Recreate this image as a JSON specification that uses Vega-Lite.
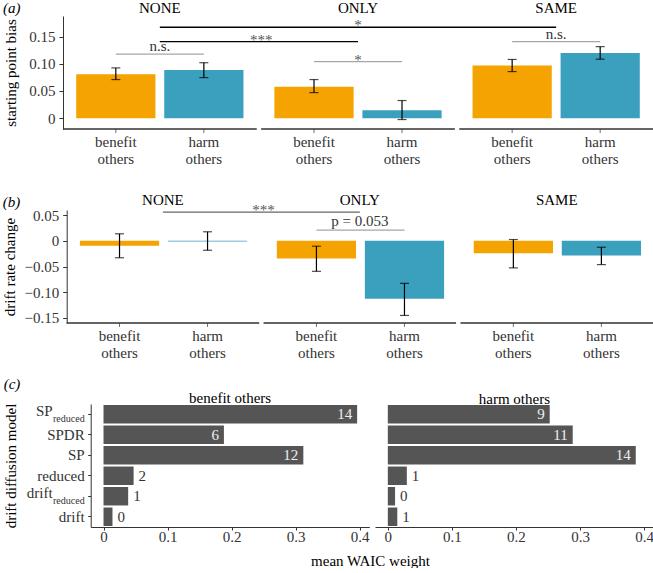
{
  "$schema": "https://vega.github.io/schema/vega-lite/v6.json",
  "background": "white",
  "padding": {"left": 2, "top": 0, "right": 0, "bottom": 0},
  "columns": 1,
  "align": "none",
  "spacing": 16,
  "config": {
    "view": {"stroke": null},
    "font": "Liberation Serif",
    "axis": {"labelFont": "Liberation Serif", "titleFont": "Liberation Serif", "labelFontSize": 15, "titleFontSize": 15, "titleFontWeight": "normal", "labelColor": "#333", "titleColor": "#000", "domainColor": "#333", "tickColor": "#333", "grid": false, "labelOverlap": false},
    "title": {"font": "Liberation Serif", "fontSize": 15, "fontWeight": "normal", "color": "#000"},
    "text": {"font": "Liberation Serif", "fontSize": 15}
  },
  "datasets": {
    "spb": [
      {"condition": "NONE", "target": "benefit others", "value": 0.081, "lo": 0.071, "hi": 0.0925},
      {"condition": "NONE", "target": "harm others", "value": 0.0888, "lo": 0.0746, "hi": 0.102},
      {"condition": "ONLY", "target": "benefit others", "value": 0.058, "lo": 0.047, "hi": 0.071},
      {"condition": "ONLY", "target": "harm others", "value": 0.0147, "lo": -0.0026, "hi": 0.0324},
      {"condition": "SAME", "target": "benefit others", "value": 0.0967, "lo": 0.0857, "hi": 0.108},
      {"condition": "SAME", "target": "harm others", "value": 0.12, "lo": 0.1085, "hi": 0.1316}
    ],
    "drc": [
      {"condition": "NONE", "target": "benefit others", "value": -0.0098, "lo": -0.033, "hi": 0.0137},
      {"condition": "NONE", "target": "harm others", "value": -0.0015, "lo": -0.0184, "hi": 0.0176},
      {"condition": "ONLY", "target": "benefit others", "value": -0.0346, "lo": -0.0594, "hi": -0.0105},
      {"condition": "ONLY", "target": "harm others", "value": -0.113, "lo": -0.1453, "hi": -0.0828},
      {"condition": "SAME", "target": "benefit others", "value": -0.0242, "lo": -0.0527, "hi": 0.0025},
      {"condition": "SAME", "target": "harm others", "value": -0.0287, "lo": -0.0463, "hi": -0.0125}
    ],
    "sigA_pairs": [
      {"id": "a1", "condition": "NONE", "target": "benefit others", "y": 0.118},
      {"id": "a1", "condition": "NONE", "target": "harm others", "y": 0.118},
      {"id": "a2", "condition": "ONLY", "target": "benefit others", "y": 0.104},
      {"id": "a2", "condition": "ONLY", "target": "harm others", "y": 0.104},
      {"id": "a3", "condition": "SAME", "target": "benefit others", "y": 0.1408},
      {"id": "a3", "condition": "SAME", "target": "harm others", "y": 0.1408}
    ],
    "sigA_cross": [
      {"id": "c1", "condition": "NONE", "y": 0.1673},
      {"id": "c1", "condition": "SAME", "y": 0.1673},
      {"id": "c2", "condition": "NONE", "y": 0.1408},
      {"id": "c2", "condition": "ONLY", "y": 0.1408}
    ],
    "sigA_labels": [
      {"condition": "NONE", "label": "n.s.", "y": 0.118},
      {"condition": "ONLY", "label": "*", "y": 0.104},
      {"condition": "SAME", "label": "n.s.", "y": 0.1408},
      {"condition": "ONLY", "label": "*", "y": 0.1673},
      {"condition": "ONLY", "label": "***", "y": 0.1408}
    ],
    "sigB_pairs": [
      {"id": "b1", "condition": "ONLY", "target": "benefit others", "y": 0.0207},
      {"id": "b1", "condition": "ONLY", "target": "harm others", "y": 0.0207}
    ],
    "sigB_cross": [
      {"id": "b2", "condition": "NONE", "y": 0.0559},
      {"id": "b2", "condition": "ONLY", "y": 0.0559}
    ],
    "sigB_labels": [
      {"condition": "ONLY", "label": "p = 0.053", "y": 0.0207},
      {"condition": "ONLY", "label": "***", "y": 0.0559}
    ],
    "waic": [
      {"target": "benefit others", "model": "SPreduced", "main": "SP", "sub": "reduced", "weight": 0.396, "n": 14},
      {"target": "benefit others", "model": "SPDR", "main": "SPDR", "sub": null, "weight": 0.188, "n": 6},
      {"target": "benefit others", "model": "SP", "main": "SP", "sub": null, "weight": 0.312, "n": 12},
      {"target": "benefit others", "model": "reduced", "main": "reduced", "sub": null, "weight": 0.047, "n": 2},
      {"target": "benefit others", "model": "driftreduced", "main": "drift", "sub": "reduced", "weight": 0.0385, "n": 1},
      {"target": "benefit others", "model": "drift", "main": "drift", "sub": null, "weight": 0.014, "n": 0},
      {"target": "harm others", "model": "SPreduced", "main": "SP", "sub": "reduced", "weight": 0.2527, "n": 9},
      {"target": "harm others", "model": "SPDR", "main": "SPDR", "sub": null, "weight": 0.2886, "n": 11},
      {"target": "harm others", "model": "SP", "main": "SP", "sub": null, "weight": 0.387, "n": 14},
      {"target": "harm others", "model": "reduced", "main": "reduced", "sub": null, "weight": 0.0297, "n": 1},
      {"target": "harm others", "model": "driftreduced", "main": "drift", "sub": "reduced", "weight": 0.0113, "n": 0},
      {"target": "harm others", "model": "drift", "main": "drift", "sub": null, "weight": 0.0148, "n": 1}
    ]
  },
  "concat": [
    {
      "columns": 1,
      "align": "none",
      "spacing": 25,
      "concat": [
        {
          "width": 590, "height": 113,
          "title": {"text": "(a)", "anchor": "start", "frame": "bounds", "fontStyle": "italic", "offset": -16},
          "layer": [
            {"data": {"name": "spb"}, "mark": {"type": "bar"},
             "encoding": {
               "x": {"field": "condition", "type": "nominal", "sort": ["NONE", "ONLY", "SAME"], "scale": {"paddingInner": 0.0227, "paddingOuter": 0}, "axis": {"orient": "top", "title": null, "domain": false, "ticks": false, "labelAngle": 0, "labelPadding": 1, "labelColor": "#000"}},
               "xOffset": {"field": "target", "type": "nominal", "sort": ["benefit others", "harm others"], "scale": {"paddingInner": 0.1, "paddingOuter": 0.15}},
               "y": {"field": "value", "type": "quantitative", "scale": {"domain": [-0.02, 0.188], "nice": false, "zero": false}, "axis": {"title": "starting point bias", "values": [0, 0.05, 0.1, 0.15], "labelExpr": "datum.value === 0 ? '0' : format(datum.value, '.2f')", "labelOverlap": false, "tickSize": 4, "labelPadding": 4, "minExtent": 41, "maxExtent": 41, "titlePadding": 4}},
               "y2": {"datum": 0},
               "color": {"field": "target", "type": "nominal", "scale": {"domain": ["benefit others", "harm others"], "range": ["#F4A300", "#3BA0BE"]}, "legend": null}
             }},
            {"data": {"name": "spb"}, "mark": {"type": "rule", "color": "#000", "strokeWidth": 1.2},
             "encoding": {
               "x": {"field": "condition", "type": "nominal", "sort": ["NONE", "ONLY", "SAME"]},
               "xOffset": {"field": "target", "type": "nominal", "sort": ["benefit others", "harm others"]},
               "y": {"field": "lo", "type": "quantitative", "axis": {"title": "starting point bias", "values": [0, 0.05, 0.1, 0.15], "labelExpr": "datum.value === 0 ? '0' : format(datum.value, '.2f')", "labelOverlap": false, "tickSize": 4, "labelPadding": 4, "minExtent": 41, "maxExtent": 41, "titlePadding": 4}},
               "y2": {"field": "hi"}
             }},
            {"data": {"name": "spb"}, "mark": {"type": "tick", "orient": "horizontal", "size": 9, "thickness": 1.2, "color": "#000"},
             "encoding": {
               "x": {"field": "condition", "type": "nominal", "sort": ["NONE", "ONLY", "SAME"]},
               "xOffset": {"field": "target", "type": "nominal", "sort": ["benefit others", "harm others"]},
               "y": {"field": "lo", "type": "quantitative", "axis": {"title": "starting point bias", "values": [0, 0.05, 0.1, 0.15], "labelExpr": "datum.value === 0 ? '0' : format(datum.value, '.2f')", "labelOverlap": false, "tickSize": 4, "labelPadding": 4, "minExtent": 41, "maxExtent": 41, "titlePadding": 4}}
             }},
            {"data": {"name": "spb"}, "mark": {"type": "tick", "orient": "horizontal", "size": 9, "thickness": 1.2, "color": "#000"},
             "encoding": {
               "x": {"field": "condition", "type": "nominal", "sort": ["NONE", "ONLY", "SAME"]},
               "xOffset": {"field": "target", "type": "nominal", "sort": ["benefit others", "harm others"]},
               "y": {"field": "hi", "type": "quantitative", "axis": {"title": "starting point bias", "values": [0, 0.05, 0.1, 0.15], "labelExpr": "datum.value === 0 ? '0' : format(datum.value, '.2f')", "labelOverlap": false, "tickSize": 4, "labelPadding": 4, "minExtent": 41, "maxExtent": 41, "titlePadding": 4}}
             }},
            {"data": {"name": "spb"}, "mark": {"type": "rule", "color": "#333", "strokeWidth": 1},
             "encoding": {
               "x": {"field": "condition", "type": "nominal", "sort": ["NONE", "ONLY", "SAME"], "bandPosition": 0},
               "x2": {"field": "condition", "bandPosition": 1},
               "y": {"datum": -0.02, "type": "quantitative", "axis": {"title": "starting point bias", "values": [0, 0.05, 0.1, 0.15], "labelExpr": "datum.value === 0 ? '0' : format(datum.value, '.2f')", "labelOverlap": false, "tickSize": 4, "labelPadding": 4, "minExtent": 41, "maxExtent": 41, "titlePadding": 4}}
             }},
            {"data": {"name": "spb"}, "mark": {"type": "tick", "orient": "vertical", "size": 4, "thickness": 1, "yOffset": 2, "color": "#333"},
             "encoding": {
               "x": {"field": "condition", "type": "nominal", "sort": ["NONE", "ONLY", "SAME"]},
               "xOffset": {"field": "target", "type": "nominal", "sort": ["benefit others", "harm others"]},
               "y": {"datum": -0.02, "type": "quantitative", "axis": {"title": "starting point bias", "values": [0, 0.05, 0.1, 0.15], "labelExpr": "datum.value === 0 ? '0' : format(datum.value, '.2f')", "labelOverlap": false, "tickSize": 4, "labelPadding": 4, "minExtent": 41, "maxExtent": 41, "titlePadding": 4}}
             }},
            {"data": {"name": "spb"}, "mark": {"type": "text", "baseline": "top", "dy": 6, "lineBreak": " ", "lineHeight": 17, "color": "#333"},
             "encoding": {
               "x": {"field": "condition", "type": "nominal", "sort": ["NONE", "ONLY", "SAME"]},
               "xOffset": {"field": "target", "type": "nominal", "sort": ["benefit others", "harm others"]},
               "y": {"datum": -0.02, "type": "quantitative", "axis": {"title": "starting point bias", "values": [0, 0.05, 0.1, 0.15], "labelExpr": "datum.value === 0 ? '0' : format(datum.value, '.2f')", "labelOverlap": false, "tickSize": 4, "labelPadding": 4, "minExtent": 41, "maxExtent": 41, "titlePadding": 4}},
               "text": {"field": "target"}
             }},
            {"data": {"name": "sigA_pairs"}, "mark": {"type": "line", "color": "#a6a6a6", "strokeWidth": 1.2},
             "encoding": {
               "x": {"field": "condition", "type": "nominal", "sort": ["NONE", "ONLY", "SAME"]},
               "xOffset": {"field": "target", "type": "nominal", "sort": ["benefit others", "harm others"]},
               "y": {"field": "y", "type": "quantitative", "axis": {"title": "starting point bias", "values": [0, 0.05, 0.1, 0.15], "labelExpr": "datum.value === 0 ? '0' : format(datum.value, '.2f')", "labelOverlap": false, "tickSize": 4, "labelPadding": 4, "minExtent": 41, "maxExtent": 41, "titlePadding": 4}},
               "detail": {"field": "id"}
             }},
            {"data": {"name": "sigA_cross"}, "mark": {"type": "line", "color": "#000", "strokeWidth": 1.3},
             "encoding": {
               "x": {"field": "condition", "type": "nominal", "sort": ["NONE", "ONLY", "SAME"]},
               "y": {"field": "y", "type": "quantitative", "axis": {"title": "starting point bias", "values": [0, 0.05, 0.1, 0.15], "labelExpr": "datum.value === 0 ? '0' : format(datum.value, '.2f')", "labelOverlap": false, "tickSize": 4, "labelPadding": 4, "minExtent": 41, "maxExtent": 41, "titlePadding": 4}},
               "detail": {"field": "id"}
             }},
            {"data": {"name": "sigA_labels"}, "transform": [{"filter": "datum.label === 'n.s.'"}], "mark": {"type": "text", "baseline": "alphabetic", "dy": -3, "color": "#333"},
             "encoding": {
               "x": {"field": "condition", "type": "nominal", "sort": ["NONE", "ONLY", "SAME"]},
               "y": {"field": "y", "type": "quantitative", "axis": {"title": "starting point bias", "values": [0, 0.05, 0.1, 0.15], "labelExpr": "datum.value === 0 ? '0' : format(datum.value, '.2f')", "labelOverlap": false, "tickSize": 4, "labelPadding": 4, "minExtent": 41, "maxExtent": 41, "titlePadding": 4}},
               "text": {"field": "label"}
             }},
            {"data": {"name": "sigA_labels"}, "transform": [{"filter": "datum.label === '*'"}], "mark": {"type": "text", "baseline": "alphabetic", "dy": 3, "color": "#555"},
             "encoding": {
               "x": {"field": "condition", "type": "nominal", "sort": ["NONE", "ONLY", "SAME"]},
               "y": {"field": "y", "type": "quantitative", "axis": {"title": "starting point bias", "values": [0, 0.05, 0.1, 0.15], "labelExpr": "datum.value === 0 ? '0' : format(datum.value, '.2f')", "labelOverlap": false, "tickSize": 4, "labelPadding": 4, "minExtent": 41, "maxExtent": 41, "titlePadding": 4}},
               "text": {"field": "label"}
             }},
            {"data": {"name": "sigA_labels"}, "transform": [{"filter": "datum.label === '***'"}], "mark": {"type": "text", "baseline": "alphabetic", "dy": 3, "color": "#555"},
             "encoding": {
               "x": {"field": "condition", "type": "nominal", "sort": ["NONE", "ONLY", "SAME"], "bandPosition": 0},
               "y": {"field": "y", "type": "quantitative", "axis": {"title": "starting point bias", "values": [0, 0.05, 0.1, 0.15], "labelExpr": "datum.value === 0 ? '0' : format(datum.value, '.2f')", "labelOverlap": false, "tickSize": 4, "labelPadding": 4, "minExtent": 41, "maxExtent": 41, "titlePadding": 4}},
               "text": {"field": "label"}
             }}
          ]
        },
        {
          "width": 590, "height": 113,
          "title": {"text": "(b)", "anchor": "start", "frame": "bounds", "fontStyle": "italic", "offset": -18},
          "layer": [
            {"data": {"name": "drc"}, "mark": {"type": "bar"},
             "encoding": {
               "x": {"field": "condition", "type": "nominal", "sort": ["NONE", "ONLY", "SAME"], "scale": {"range": [3.7, 590], "paddingInner": 0.0227, "paddingOuter": 0}, "axis": {"orient": "top", "title": null, "domain": false, "ticks": false, "labelAngle": 0, "labelPadding": 3, "labelColor": "#000"}},
               "xOffset": {"field": "target", "type": "nominal", "sort": ["benefit others", "harm others"], "scale": {"paddingInner": 0.1, "paddingOuter": 0.15}},
               "y": {"field": "value", "type": "quantitative", "scale": {"domain": [-0.16, 0.06], "nice": false, "zero": false}, "axis": {"title": "drift rate change", "values": [-0.15, -0.1, -0.05, 0, 0.05], "labelExpr": "datum.value === 0 ? '0' : format(datum.value, '.2f')", "labelOverlap": false, "offset": -3.7, "tickSize": 4, "labelPadding": 4, "minExtent": 45, "maxExtent": 45, "titlePadding": 4}},
               "y2": {"datum": 0},
               "color": {"field": "target", "type": "nominal", "scale": {"domain": ["benefit others", "harm others"], "range": ["#F4A300", "#3BA0BE"]}, "legend": null}
             }},
            {"data": {"name": "drc"}, "mark": {"type": "rule", "color": "#000", "strokeWidth": 1.2},
             "encoding": {
               "x": {"field": "condition", "type": "nominal", "sort": ["NONE", "ONLY", "SAME"]},
               "xOffset": {"field": "target", "type": "nominal", "sort": ["benefit others", "harm others"]},
               "y": {"field": "lo", "type": "quantitative", "axis": {"title": "drift rate change", "values": [-0.15, -0.1, -0.05, 0, 0.05], "labelExpr": "datum.value === 0 ? '0' : format(datum.value, '.2f')", "labelOverlap": false, "offset": -3.7, "tickSize": 4, "labelPadding": 4, "minExtent": 45, "maxExtent": 45, "titlePadding": 4}},
               "y2": {"field": "hi"}
             }},
            {"data": {"name": "drc"}, "mark": {"type": "tick", "orient": "horizontal", "size": 9, "thickness": 1.2, "color": "#000"},
             "encoding": {
               "x": {"field": "condition", "type": "nominal", "sort": ["NONE", "ONLY", "SAME"]},
               "xOffset": {"field": "target", "type": "nominal", "sort": ["benefit others", "harm others"]},
               "y": {"field": "lo", "type": "quantitative", "axis": {"title": "drift rate change", "values": [-0.15, -0.1, -0.05, 0, 0.05], "labelExpr": "datum.value === 0 ? '0' : format(datum.value, '.2f')", "labelOverlap": false, "offset": -3.7, "tickSize": 4, "labelPadding": 4, "minExtent": 45, "maxExtent": 45, "titlePadding": 4}}
             }},
            {"data": {"name": "drc"}, "mark": {"type": "tick", "orient": "horizontal", "size": 9, "thickness": 1.2, "color": "#000"},
             "encoding": {
               "x": {"field": "condition", "type": "nominal", "sort": ["NONE", "ONLY", "SAME"]},
               "xOffset": {"field": "target", "type": "nominal", "sort": ["benefit others", "harm others"]},
               "y": {"field": "hi", "type": "quantitative", "axis": {"title": "drift rate change", "values": [-0.15, -0.1, -0.05, 0, 0.05], "labelExpr": "datum.value === 0 ? '0' : format(datum.value, '.2f')", "labelOverlap": false, "offset": -3.7, "tickSize": 4, "labelPadding": 4, "minExtent": 45, "maxExtent": 45, "titlePadding": 4}}
             }},
            {"data": {"name": "drc"}, "mark": {"type": "rule", "color": "#333", "strokeWidth": 1},
             "encoding": {
               "x": {"field": "condition", "type": "nominal", "sort": ["NONE", "ONLY", "SAME"], "bandPosition": 0},
               "x2": {"field": "condition", "bandPosition": 1},
               "y": {"datum": -0.16, "type": "quantitative", "axis": {"title": "drift rate change", "values": [-0.15, -0.1, -0.05, 0, 0.05], "labelExpr": "datum.value === 0 ? '0' : format(datum.value, '.2f')", "labelOverlap": false, "offset": -3.7, "tickSize": 4, "labelPadding": 4, "minExtent": 45, "maxExtent": 45, "titlePadding": 4}}
             }},
            {"data": {"name": "drc"}, "mark": {"type": "tick", "orient": "vertical", "size": 4, "thickness": 1, "yOffset": 2, "color": "#333"},
             "encoding": {
               "x": {"field": "condition", "type": "nominal", "sort": ["NONE", "ONLY", "SAME"]},
               "xOffset": {"field": "target", "type": "nominal", "sort": ["benefit others", "harm others"]},
               "y": {"datum": -0.16, "type": "quantitative", "axis": {"title": "drift rate change", "values": [-0.15, -0.1, -0.05, 0, 0.05], "labelExpr": "datum.value === 0 ? '0' : format(datum.value, '.2f')", "labelOverlap": false, "offset": -3.7, "tickSize": 4, "labelPadding": 4, "minExtent": 45, "maxExtent": 45, "titlePadding": 4}}
             }},
            {"data": {"name": "drc"}, "mark": {"type": "text", "baseline": "top", "dy": 6, "lineBreak": " ", "lineHeight": 17, "color": "#333"},
             "encoding": {
               "x": {"field": "condition", "type": "nominal", "sort": ["NONE", "ONLY", "SAME"]},
               "xOffset": {"field": "target", "type": "nominal", "sort": ["benefit others", "harm others"]},
               "y": {"datum": -0.16, "type": "quantitative", "axis": {"title": "drift rate change", "values": [-0.15, -0.1, -0.05, 0, 0.05], "labelExpr": "datum.value === 0 ? '0' : format(datum.value, '.2f')", "labelOverlap": false, "offset": -3.7, "tickSize": 4, "labelPadding": 4, "minExtent": 45, "maxExtent": 45, "titlePadding": 4}},
               "text": {"field": "target"}
             }},
            {"data": {"name": "sigB_pairs"}, "mark": {"type": "line", "color": "#a6a6a6", "strokeWidth": 1.2},
             "encoding": {
               "x": {"field": "condition", "type": "nominal", "sort": ["NONE", "ONLY", "SAME"]},
               "xOffset": {"field": "target", "type": "nominal", "sort": ["benefit others", "harm others"]},
               "y": {"field": "y", "type": "quantitative", "axis": {"title": "drift rate change", "values": [-0.15, -0.1, -0.05, 0, 0.05], "labelExpr": "datum.value === 0 ? '0' : format(datum.value, '.2f')", "labelOverlap": false, "offset": -3.7, "tickSize": 4, "labelPadding": 4, "minExtent": 45, "maxExtent": 45, "titlePadding": 4}},
               "detail": {"field": "id"}
             }},
            {"data": {"name": "sigB_cross"}, "mark": {"type": "line", "color": "#666", "strokeWidth": 1.3},
             "encoding": {
               "x": {"field": "condition", "type": "nominal", "sort": ["NONE", "ONLY", "SAME"]},
               "y": {"field": "y", "type": "quantitative", "axis": {"title": "drift rate change", "values": [-0.15, -0.1, -0.05, 0, 0.05], "labelExpr": "datum.value === 0 ? '0' : format(datum.value, '.2f')", "labelOverlap": false, "offset": -3.7, "tickSize": 4, "labelPadding": 4, "minExtent": 45, "maxExtent": 45, "titlePadding": 4}},
               "detail": {"field": "id"}
             }},
            {"data": {"name": "sigB_labels"}, "transform": [{"filter": "datum.label !== '***'"}], "mark": {"type": "text", "baseline": "alphabetic", "dy": -4, "color": "#333"},
             "encoding": {
               "x": {"field": "condition", "type": "nominal", "sort": ["NONE", "ONLY", "SAME"]},
               "y": {"field": "y", "type": "quantitative", "axis": {"title": "drift rate change", "values": [-0.15, -0.1, -0.05, 0, 0.05], "labelExpr": "datum.value === 0 ? '0' : format(datum.value, '.2f')", "labelOverlap": false, "offset": -3.7, "tickSize": 4, "labelPadding": 4, "minExtent": 45, "maxExtent": 45, "titlePadding": 4}},
               "text": {"field": "label"}
             }},
            {"data": {"name": "sigB_labels"}, "transform": [{"filter": "datum.label === '***'"}], "mark": {"type": "text", "baseline": "alphabetic", "dy": 3, "color": "#555"},
             "encoding": {
               "x": {"field": "condition", "type": "nominal", "sort": ["NONE", "ONLY", "SAME"], "bandPosition": 0},
               "y": {"field": "y", "type": "quantitative", "axis": {"title": "drift rate change", "values": [-0.15, -0.1, -0.05, 0, 0.05], "labelExpr": "datum.value === 0 ? '0' : format(datum.value, '.2f')", "labelOverlap": false, "offset": -3.7, "tickSize": 4, "labelPadding": 4, "minExtent": 45, "maxExtent": 45, "titlePadding": 4}},
               "text": {"field": "label"}
             }}
          ]
        }
      ]
    },
    {
      "title": {"text": "(c)", "anchor": "start", "frame": "bounds", "fontStyle": "italic", "offset": -1},
      "spacing": 5,
      "bounds": "flush",
      "hconcat": [
        {
          "width": 306.3, "height": 123,
          "title": {"text": "benefit others", "offset": -3, "anchor": "middle", "dx": 14},
          "data": {"name": "waic"},
          "transform": [{"filter": "datum.target === 'benefit others'"}],
          "layer": [
            {"mark": {"type": "bar", "color": "#555555"},
             "encoding": {
               "y": {"field": "model", "type": "nominal", "sort": ["SPreduced", "SPDR", "SP", "reduced", "driftreduced", "drift"], "scale": {"paddingInner": 0.1, "paddingOuter": 0.05}, "axis": {"labels": false, "tickSize": 3, "offset": -27.7, "title": "drift diffusion model", "minExtent": 68, "maxExtent": 68, "titlePadding": 4}},
               "x": {"field": "weight", "type": "quantitative", "scale": {"domain": [-0.02, 0.415], "range": [27.7, 306.3], "nice": false, "zero": false}, "axis": {"values": [0, 0.1, 0.2, 0.3, 0.4], "labelExpr": "datum.value === 0 ? '0' : format(datum.value, '.1f')", "labelOverlap": false, "tickSize": 3, "labelPadding": -1, "title": "mean WAIC weight", "titleX": 307, "titlePadding": 9}},
               "x2": {"datum": 0}
             }},
            {"transform": [{"filter": "datum.weight > 0.1"}],
             "mark": {"type": "text", "align": "right", "baseline": "middle", "dx": -5, "color": "#eeeeee"},
             "encoding": {
               "y": {"field": "model", "type": "nominal", "sort": ["SPreduced", "SPDR", "SP", "reduced", "driftreduced", "drift"]},
               "x": {"field": "weight", "type": "quantitative"},
               "text": {"field": "n"}
             }},
            {"transform": [{"filter": "datum.weight <= 0.1"}],
             "mark": {"type": "text", "align": "left", "baseline": "middle", "dx": 5, "color": "#333"},
             "encoding": {
               "y": {"field": "model", "type": "nominal", "sort": ["SPreduced", "SPDR", "SP", "reduced", "driftreduced", "drift"]},
               "x": {"field": "weight", "type": "quantitative"},
               "text": {"field": "n"}
             }},
            {"transform": [{"filter": "datum.sub === null"}],
             "mark": {"type": "text", "align": "right", "baseline": "middle", "dx": -6, "color": "#333"},
             "encoding": {
               "y": {"field": "model", "type": "nominal", "sort": ["SPreduced", "SPDR", "SP", "reduced", "driftreduced", "drift"]},
               "x": {"datum": -0.02, "type": "quantitative"},
               "text": {"field": "main"}
             }},
            {"transform": [{"filter": "datum.sub !== null"}],
             "mark": {"type": "text", "align": "right", "baseline": "middle", "dx": -38, "dy": -3, "color": "#333"},
             "encoding": {
               "y": {"field": "model", "type": "nominal", "sort": ["SPreduced", "SPDR", "SP", "reduced", "driftreduced", "drift"]},
               "x": {"datum": -0.02, "type": "quantitative"},
               "text": {"field": "main"}
             }},
            {"transform": [{"filter": "datum.sub !== null"}],
             "mark": {"type": "text", "align": "right", "baseline": "middle", "dx": -6, "dy": 5, "fontSize": 10, "color": "#333"},
             "encoding": {
               "y": {"field": "model", "type": "nominal", "sort": ["SPreduced", "SPDR", "SP", "reduced", "driftreduced", "drift"]},
               "x": {"datum": -0.02, "type": "quantitative"},
               "text": {"field": "sub"}
             }}
          ]
        },
        {
          "width": 278.7, "height": 123,
          "title": {"text": "harm others", "offset": -3},
          "data": {"name": "waic"},
          "transform": [{"filter": "datum.target === 'harm others'"}],
          "layer": [
            {"mark": {"type": "bar", "color": "#555555"},
             "encoding": {
               "y": {"field": "model", "type": "nominal", "sort": ["SPreduced", "SPDR", "SP", "reduced", "driftreduced", "drift"], "scale": {"paddingInner": 0.1, "paddingOuter": 0.05}, "axis": null},
               "x": {"field": "weight", "type": "quantitative", "scale": {"domain": [-0.02, 0.415], "nice": false, "zero": false}, "axis": {"values": [0, 0.1, 0.2, 0.3, 0.4], "labelExpr": "datum.value === 0 ? '0' : format(datum.value, '.1f')", "labelOverlap": false, "tickSize": 3, "labelPadding": -1, "title": null}},
               "x2": {"datum": 0}
             }},
            {"transform": [{"filter": "datum.weight > 0.1"}],
             "mark": {"type": "text", "align": "right", "baseline": "middle", "dx": -5, "color": "#eeeeee"},
             "encoding": {
               "y": {"field": "model", "type": "nominal", "sort": ["SPreduced", "SPDR", "SP", "reduced", "driftreduced", "drift"]},
               "x": {"field": "weight", "type": "quantitative"},
               "text": {"field": "n"}
             }},
            {"transform": [{"filter": "datum.weight <= 0.1"}],
             "mark": {"type": "text", "align": "left", "baseline": "middle", "dx": 5, "color": "#333"},
             "encoding": {
               "y": {"field": "model", "type": "nominal", "sort": ["SPreduced", "SPDR", "SP", "reduced", "driftreduced", "drift"]},
               "x": {"field": "weight", "type": "quantitative"},
               "text": {"field": "n"}
             }}
          ]
        }
      ]
    }
  ]
}
